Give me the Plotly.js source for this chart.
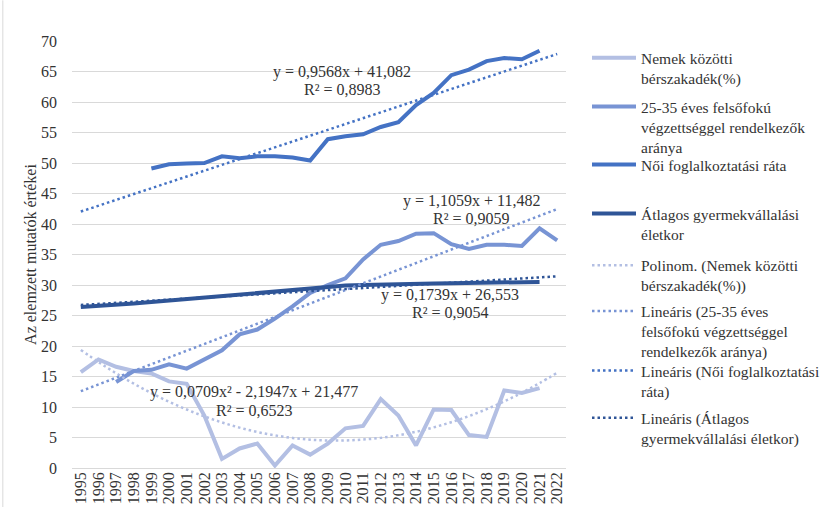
<!DOCTYPE html>
<html>
<head>
<meta charset="utf-8">
<script src="https://cdn.plot.ly/plotly-3.0.1.min.js"></script>
<style>html,body{margin:0;padding:0;background:#fff;}#chart{width:831px;height:507px;}</style>
</head>
<body>
<div id="chart"></div>
<script>
// ---- data ----
var years = ['1995','1996','1997','1998','1999','2000','2001','2002','2003','2004','2005','2006','2007','2008','2009','2010','2011','2012','2013','2014','2015','2016','2017','2018','2019','2020','2021','2022'];
var wageGap = [15.7,17.8,16.6,15.9,15.5,14.2,13.8,8.6,1.5,3.2,4.0,0.4,3.7,2.2,4.0,6.5,6.9,11.3,8.6,3.7,9.6,9.5,5.4,5.1,12.7,12.3,13.1,null];
var tertiary = [null,null,14.1,15.9,16.1,17.0,16.3,17.8,19.3,21.9,22.7,24.5,26.5,28.7,30.0,31.1,34.2,36.6,37.2,38.4,38.5,36.7,35.9,36.6,36.6,36.4,39.3,37.3];
var employment = [null,null,null,null,49.1,49.8,49.9,50.0,51.1,50.8,51.1,51.1,50.9,50.4,53.9,54.4,54.7,55.9,56.7,59.5,61.5,64.4,65.3,66.7,67.2,67.0,68.4,null];
var childAge = [26.4,26.55,26.75,26.95,27.2,27.45,27.7,27.95,28.2,28.5,28.75,29.0,29.3,29.5,29.75,29.9,30.0,30.1,30.15,30.2,30.25,30.3,30.35,30.4,30.45,30.5,30.5,null];
// trendline values (as labelled by its equations)
var polyTrendGap = [19.35,17.37,15.53,13.83,12.28,10.86,9.59,8.46,7.47,6.62,5.91,5.35,4.93,4.65,4.51,4.51,4.66,4.94,5.37,5.94,6.66,7.51,8.51,9.64,10.92,12.34,13.91,15.61];
var trendYears = ['1995','2022'];
var linTrendTertiary = [12.59,42.45];
var linTrendEmployment = [42.04,67.87];
var linTrendAge = [26.73,31.42];
var seriesNames = [
  'Nemek közötti<br>bérszakadék(%)',
  '25-35 éves felsőfokú<br>végzettséggel rendelkezők<br>aránya',
  'Női foglalkoztatási ráta',
  'Átlagos gyermekvállalási<br>életkor',
  'Polinom. (Nemek közötti<br>bérszakadék(%))',
  'Lineáris (25-35 éves<br>felsőfokú végzettséggel<br>rendelkezők aránya)',
  'Lineáris (Női foglalkoztatási<br>ráta)',
  'Lineáris (Átlagos<br>gyermekvállalási életkor)'
];
var equationLines = [
  ['y = 0,9568x + 41,082','R² = 0,8983'],
  ['y = 1,1059x + 11,482','R² = 0,9059'],
  ['y = 0,1739x + 26,553','R² = 0,9054'],
  ['y = 0,0709x² - 2,1947x + 21,477','R² = 0,6523']
];
var yTitle = 'Az elemzett mutatók értékei';

// ---- styling ----
var cLight = '#b3bfe3', cMed = '#7894d4', cEmp = '#4472c4', cDark = '#2f5597';
var FONT = '"Liberation Serif", "Times New Roman", "DejaVu Serif", serif';
var TXT = '#333333';
var W = 831, H = 507;
var plotL = 71.7, plotR = 565.8, plotT = 40.7, plotB = 467.7;
function px2paperX(p){ return (p - plotL)/(plotR - plotL); }
function px2paperY(p){ return (plotB - p)/(plotB - plotT); }

var dotDash = '2.5px,3px';
var traces = [
  {x: years, y: wageGap, name: seriesNames[0], mode:'lines', line:{color:cLight, width:4}, legend:'legend'},
  {x: years, y: tertiary, name: seriesNames[1], mode:'lines', line:{color:cMed, width:4}, legend:'legend2'},
  {x: years, y: employment, name: seriesNames[2], mode:'lines', line:{color:cEmp, width:4}, legend:'legend3'},
  {x: years, y: childAge, name: seriesNames[3], mode:'lines', line:{color:cDark, width:4}, legend:'legend4'},
  {x: years, y: polyTrendGap, name: seriesNames[4], mode:'lines', line:{color:cLight, width:2.5, dash:dotDash, shape:'spline'}, legend:'legend5'},
  {x: trendYears, y: linTrendTertiary, name: seriesNames[5], mode:'lines', line:{color:cMed, width:2.5, dash:dotDash}, legend:'legend6'},
  {x: trendYears, y: linTrendEmployment, name: seriesNames[6], mode:'lines', line:{color:cEmp, width:2.5, dash:dotDash}, legend:'legend7'},
  {x: trendYears, y: linTrendAge, name: seriesNames[7], mode:'lines', line:{color:cDark, width:2.5, dash:dotDash}, legend:'legend8'}
];
traces.forEach(function(t){ t.hoverinfo='skip'; t.connectgaps=false; });

// first-line positions of the legend entries (px from top)
var legendTops = [59.3,108,166,215,266.7,312.5,372,419.3];
var legendOffset = 18;
var layout = {
  width: W, height: H,
  margin: {l: plotL, r: W - plotR, t: plotT, b: H - plotB, pad: 0},
  paper_bgcolor: '#ffffff', plot_bgcolor: '#ffffff',
  font: {family: FONT, size: 16, color: TXT},
  showlegend: true,
  xaxis: {
    type: 'category', categoryorder: 'array', categoryarray: years,
    range: [-0.5, years.length - 0.5],
    tickmode: 'array', tickvals: years, ticktext: years,
    showgrid: false, zeroline: false, showline: false, ticks: '',
    tickangle: -90, tickfont: {family: FONT, size: 16, color: TXT},
    automargin: false, fixedrange: true
  },
  yaxis: {
    range: [0, 70], dtick: 5, tick0: 0,
    showgrid: true, gridcolor: '#d9d9d9', gridwidth: 1,
    zeroline: true, zerolinecolor: '#d9d9d9', zerolinewidth: 1,
    showline: false, ticks: '', ticklabelstandoff: 14,
    tickfont: {family: FONT, size: 16, color: TXT},
    title: {text: yTitle, font: {family: FONT, size: 16, color: TXT}, standoff: 0},
    automargin: false, fixedrange: true
  },
  annotations: [],
  shapes: [
    {type:'line', xref:'paper', yref:'paper', x0: px2paperX(2.5), x1: px2paperX(2.5), y0: px2paperY(0), y1: px2paperY(H), line:{color:'#d9d9d9', width:1}}
  ]
};
var legendKeys = ['legend','legend2','legend3','legend4','legend5','legend6','legend7','legend8'];
legendKeys.forEach(function(k, i){
  layout[k] = {
    xref: 'container', yref: 'container',
    x: 587/W, y: 1 - (legendTops[i] - legendOffset)/H,
    xanchor: 'left', yanchor: 'top',
    bgcolor: 'rgba(0,0,0,0)', borderwidth: 0,
    valign: 'top', itemwidth: 44,
    font: {family: FONT, size: 15.5, color: TXT},
    itemclick: false, itemdoubleclick: false
  };
});
var eqPos = [
  [[342,71.7],[342.5,89.3]],
  [[471,200.7],[471.5,218.3]],
  [[449.5,294.3],[450,311.7]],
  [[253.5,392],[254,410]]
];
equationLines.forEach(function(lines, i){
  lines.forEach(function(txt, j){
    layout.annotations.push({
      xref:'paper', yref:'paper', x: px2paperX(eqPos[i][j][0]), y: px2paperY(eqPos[i][j][1]),
      xanchor:'center', yanchor:'middle', text: txt, showarrow:false,
      font:{family: FONT, size:16, color: TXT}
    });
  });
});

Plotly.newPlot('chart', traces, layout, {displayModeBar:false, staticPlot:true});
</script>
</body>
</html>
